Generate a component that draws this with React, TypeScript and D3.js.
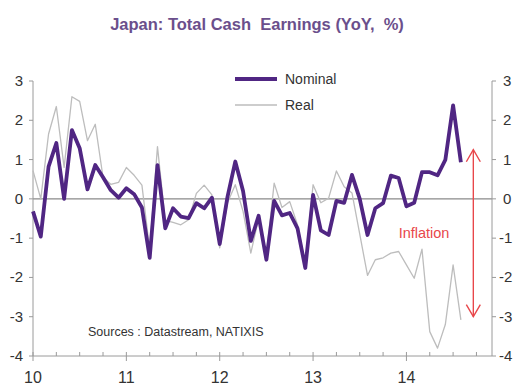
import * as d3 from "d3";

// chart data: monthly YoY % from Jan 2010 to Aug 2014
const yearLabels = ["10", "11", "12", "13", "14"];
const yTicks = [3, 2, 1, 0, -1, -2, -3, -4];

const nominal = [
  -0.32, -0.96, 0.82, 1.42, 0.0, 1.75, 1.29, 0.24, 0.86, 0.55, 0.22, 0.03,
  0.27, 0.12, -0.22, -1.5, 0.86, -0.75, -0.24, -0.45, -0.49, -0.11, -0.24, 0.03,
  -1.15, 0.05, 0.95, 0.2, -1.07, -0.43, -1.55, -0.05, -0.42, -0.36, -0.75, -1.76,
  0.1, -0.8, -0.92, -0.05, -0.1, 0.61, 0.0, -0.92, -0.24, -0.11, 0.59, 0.53,
  -0.19, -0.1, 0.68, 0.68, 0.6, 0.99, 2.38, 0.93,
];

const real = [
  0.72, 0.0, 1.65, 2.35, 0.8, 2.6, 2.48, 1.48, 1.9, 0.55, 0.37, 0.42,
  0.8, 0.6, 0.35, -1.3, 1.33, -0.55, -0.6, -0.66, -0.53, 0.14, 0.35, 0.1,
  -1.25, -0.1, 0.36, -0.32, -1.38, -0.5, -1.42, 0.4, -0.22, -0.07, -0.66, -1.65,
  0.36, -0.1, 0.02, 0.71, 0.31, 0.15, -0.9, -1.95, -1.55, -1.5, -1.38, -1.34,
  -1.68, -2.02, -1.28, -3.38, -3.8, -3.2, -1.68, -3.08,
];

const FONT = "'Liberation Sans', Arial, sans-serif";

export default function App() {
  const width = 521;
  const height = 388;
  const x = d3.scaleLinear([0, 59], [33, 492]);
  const y = d3.scaleLinear([-4, 3], [356, 81]);
  const line = d3.line<number>((d, i) => x(i), (d) => y(d));

  const quarters = d3.range(0, 60, 3);
  const arrowX = x(56.6);
  const arrowTop = y(1.25);
  const arrowBottom = y(-3.0);

  return (
    <svg
      width={width}
      height={height}
      style={{ position: "absolute", left: 0, top: 0, background: "#fff" }}
      fontFamily={FONT}
    >
      {/* title */}
      <text x={257} y={30} textAnchor="middle" fontSize={16.5} fontWeight="bold" fill="#6b4f8c" style={{ whiteSpace: "pre" }}>
        {"Japan: Total Cash  Earnings (YoY,  %)"}
      </text>

      {/* zero line */}
      <line x1={x(0)} x2={x(59)} y1={y(0)} y2={y(0)} stroke="#8a8a8a" strokeWidth={1.2} />

      {/* axes */}
      <g stroke="#9a9a9a" strokeWidth={1}>
        <line x1={x(0)} x2={x(0)} y1={y(3)} y2={y(-4)} />
        <line x1={x(59)} x2={x(59)} y1={y(3)} y2={y(-4)} />
        <line x1={x(0)} x2={x(59)} y1={y(-4)} y2={y(-4)} />
        {yTicks.map((t) => (
          <g key={t}>
            <line x1={x(0) - 4} x2={x(0)} y1={y(t)} y2={y(t)} />
            <line x1={x(59)} x2={x(59) + 4} y1={y(t)} y2={y(t)} />
          </g>
        ))}
        {quarters.map((q) => (
          <line key={q} x1={x(q)} x2={x(q)} y1={y(-4) - 4} y2={y(-4) + (q % 12 === 0 ? 5 : 0)} />
        ))}
      </g>
      <g fontSize={15} fill="#333">
        {yTicks.map((t) => (
          <text key={"l" + t} x={x(0) - 10} y={y(t) + 5} textAnchor="end">{t}</text>
        ))}
        {yTicks.map((t) => (
          <text key={"r" + t} x={x(59) + (t < 0 ? 7 : 11)} y={y(t) + 5} textAnchor="start">{t}</text>
        ))}
      </g>
      <g fontSize={16} fill="#333">
        {yearLabels.map((lab, i) => (
          <text key={lab} x={x(i * 12)} y={383} textAnchor="middle">{lab}</text>
        ))}
      </g>

      {/* series */}
      <path d={line(real) ?? ""} fill="none" stroke="#bdbdbd" strokeWidth={1.3} strokeLinejoin="round" />
      <path d={line(nominal) ?? ""} fill="none" stroke="#502683" strokeWidth={3.8} strokeLinejoin="round" />

      {/* legend */}
      <line x1={235} x2={277} y1={79} y2={79} stroke="#502683" strokeWidth={3.8} />
      <text x={285} y={84} fontSize={14} fill="#333">Nominal</text>
      <line x1={235} x2={277} y1={105} y2={105} stroke="#bdbdbd" strokeWidth={1.3} />
      <text x={285} y={110} fontSize={14} fill="#333">Real</text>

      {/* inflation arrow */}
      <g stroke="#e8474b" strokeWidth={1.4} fill="none">
        <line x1={arrowX} x2={arrowX} y1={arrowTop} y2={arrowBottom} />
        <polyline points={`${arrowX - 7},${arrowTop + 12} ${arrowX},${arrowTop} ${arrowX + 7},${arrowTop + 12}`} />
        <polyline points={`${arrowX - 7},${arrowBottom - 12} ${arrowX},${arrowBottom} ${arrowX + 7},${arrowBottom - 12}`} />
      </g>
      <text x={x(47)} y={y(-1)} fontSize={14.5} fill="#e8474b">Inflation</text>

      {/* source */}
      <text x={x(7.07)} y={y(-3.5)} fontSize={12.5} fill="#333">Sources : Datastream, NATIXIS</text>
    </svg>
  );
}
